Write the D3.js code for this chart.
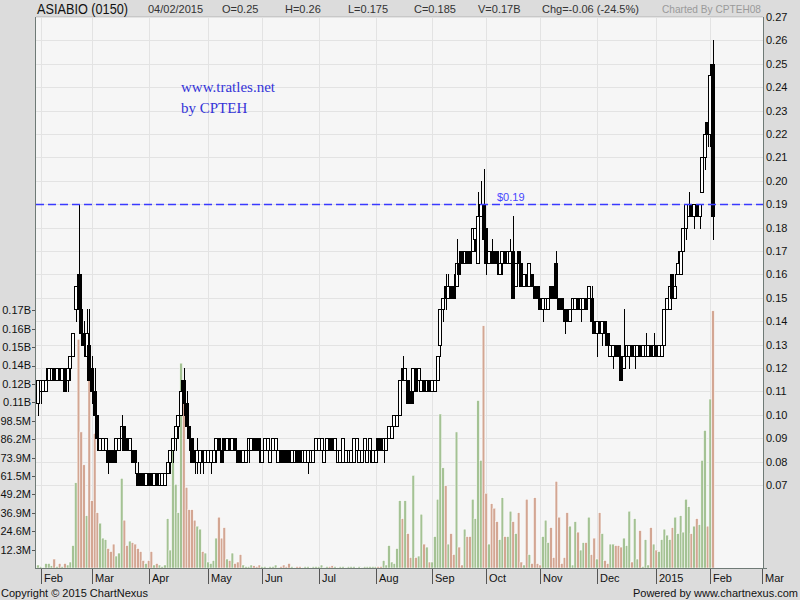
<!DOCTYPE html>
<html>
<head>
<meta charset="utf-8">
<script src="https://cdnjs.cloudflare.com/ajax/libs/d3/7.8.5/d3.min.js"></script>
<style>
  body { margin: 0; background: #dcdcdc; }
  svg { display: block; font-family: "Liberation Sans", Arial, sans-serif; }
</style>
</head>
<body>
<div id="chart"></div>
<script>
var fullwidth = 800, fullheight = 600;
var plot = {left: 36, right: 763, top: 17, bottom: 568};

// one row per trading day: [open, high, low, close, volume (millions)]
var jan14 = [[.105,.115,.10,.115,2]];
var feb14 = [
  [.11,.115,.105,.115,1],[.11,.115,.11,.115,0.5],[.11,.12,.11,.115,3],[.115,.12,.115,.12,3],
  [.115,.12,.115,.12,1.5],[.12,.12,.115,.115,6],[.115,.12,.115,.12,1],[.12,.12,.115,.115,3],
  [.115,.12,.115,.12,1],[.12,.12,.11,.11,3],[.115,.12,.11,.12,2],[.12,.125,.115,.125,4],
  [.125,.135,.125,.135,15],[.145,.155,.14,.155,57],[.16,.19,.14,.145,153],[.145,.16,.13,.135,91],
  [.135,.14,.125,.13,69],[.125,.145,.125,.135,35],[.13,.145,.115,.115,126]];
var mar14 = [
  [.12,.125,.105,.11,45],[.11,.12,.095,.10,90],[.10,.10,.085,.09,37],[.085,.09,.085,.09,30],
  [.085,.09,.085,.09,20],[.085,.09,.085,.09,19],[.085,.085,.075,.08,13],[.085,.085,.08,.08,11],
  [.085,.085,.08,.08,16],[.085,.09,.08,.09,8],[.085,.09,.085,.09,10],[.09,.10,.09,.095,60],
  [.095,.095,.085,.085,32],[.09,.09,.085,.085,15],[.085,.09,.085,.09,18],[.085,.085,.08,.08,17],
  [.085,.085,.075,.08,16],[.075,.08,.07,.07,13],[.075,.075,.07,.07,11],[.075,.075,.07,.07,5],
  [.07,.075,.07,.075,3]];
var apr14 = [
  [.075,.075,.07,.07,5],[.075,.075,.07,.07,11],[.07,.075,.07,.075,2],[.075,.075,.07,.07,3],
  [.07,.075,.07,.075,2],[.07,.075,.07,.075,1],[.07,.075,.07,.075,2],[.075,.08,.075,.08,33],
  [.08,.085,.075,.085,12],[.085,.09,.08,.09,84],[.09,.095,.085,.095,56],[.095,.10,.09,.10,37],
  [.10,.115,.10,.11,137],[.115,.12,.10,.105,124],[.105,.11,.095,.095,54],[.095,.095,.085,.09,39],
  [.09,.09,.08,.08,39],[.085,.085,.075,.08,32],[.08,.09,.075,.085,28],[.08,.085,.075,.085,26],
  [.085,.085,.075,.08,11],[.08,.085,.08,.085,10]];
var may14 = [
  [.08,.085,.08,.085,4],[.08,.085,.075,.085,3],[.08,.085,.08,.085,5],[.085,.09,.08,.09,20],
  [.09,.09,.085,.085,34],[.085,.085,.08,.08,20],[.09,.09,.085,.085,27],[.085,.09,.085,.09,6],
  [.09,.09,.085,.085,5],[.085,.09,.085,.09,10],[.09,.09,.085,.085,3],[.085,.085,.08,.08,4],
  [.085,.085,.08,.08,9],[.08,.085,.08,.085,2],[.08,.085,.08,.085,1],[.085,.09,.08,.09,1],
  [.085,.09,.085,.09,2],[.09,.09,.085,.085,1.5],[.09,.09,.085,.085,1],[.09,.09,.08,.085,2]];
var jun14 = [
  [.08,.085,.08,.085,1],[.085,.09,.085,.09,1],[.085,.09,.08,.09,0.5],[.08,.085,.08,.085,1],
  [.085,.09,.085,.09,1],[.085,.09,.08,.09,2],[.08,.085,.08,.085,0.5],[.085,.085,.08,.08,1],
  [.085,.085,.08,.08,2],[.085,.085,.08,.08,1],[.085,.085,.08,.08,3],[.08,.085,.08,.085,1],
  [.08,.085,.08,.085,0.5],[.085,.085,.08,.08,1],[.085,.085,.08,.08,1],[.08,.085,.08,.085,0.5],
  [.08,.085,.08,.085,1],[.08,.085,.075,.085,1],[.08,.085,.08,.085,0.5],[.08,.085,.08,.085,1],
  [.085,.09,.085,.09,1]];
var jul14 = [
  [.085,.09,.085,.09,1],[.085,.09,.08,.09,2],[.08,.085,.08,.085,0.5],[.085,.09,.085,.09,1],
  [.09,.09,.085,.085,1],[.09,.09,.085,.085,1.5],[.085,.09,.085,.09,1],[.08,.085,.08,.085,0.5],
  [.08,.085,.08,.085,1],[.08,.09,.08,.09,1],[.08,.085,.08,.085,0.5],[.08,.085,.08,.085,1],
  [.08,.085,.08,.085,1],[.08,.09,.08,.09,1],[.085,.09,.085,.09,0.5],[.08,.085,.08,.085,1],
  [.08,.085,.08,.085,0.5],[.085,.09,.08,.09,1],[.08,.085,.08,.085,1],[.085,.09,.08,.09,1],
  [.08,.085,.08,.085,1]];
var aug14 = [
  [.08,.085,.08,.085,1],[.09,.09,.085,.085,1],[.09,.09,.085,.085,1],[.085,.09,.08,.09,5],
  [.085,.09,.085,.09,2],[.09,.095,.09,.095,15],[.09,.095,.09,.095,4],[.095,.10,.095,.10,3],
  [.095,.10,.095,.10,13],[.10,.115,.10,.115,45],[.12,.125,.115,.115,33],[.115,.12,.115,.12,45],
  [.115,.115,.105,.105,23],[.11,.11,.105,.105,7],[.11,.12,.105,.12,62],[.12,.12,.11,.11,7],
  [.115,.12,.11,.12,8],[.11,.115,.11,.115,36],[.115,.115,.11,.11,16],[.11,.115,.11,.115,14],
  [.115,.115,.11,.11,4]];
var sep14 = [
  [.11,.115,.11,.115,4],[.11,.115,.11,.115,21],[.115,.125,.115,.125,46],[.13,.145,.125,.145,103],
  [.145,.15,.14,.15,67],[.155,.16,.145,.15,55],[.15,.16,.15,.155,16],[.155,.155,.15,.15,23],
  [.155,.16,.15,.15,9],[.155,.175,.155,.165,91],[.165,.17,.16,.16,14],[.17,.17,.165,.165,2],
  [.165,.17,.165,.17,26],[.17,.17,.165,.165,21],[.17,.17,.165,.165,21],[.17,.18,.17,.18,46],
  [.175,.18,.17,.18,33],[.165,.195,.165,.185,112],[.185,.20,.185,.19,72],[.19,.205,.175,.175,162]];
var oct14 = [
  [.18,.18,.16,.165,50],[.165,.17,.165,.17,16],[.17,.175,.165,.165,43],[.17,.17,.165,.165,40],
  [.17,.17,.16,.165,31],[.16,.165,.16,.165,19],[.165,.17,.16,.17,47],[.17,.17,.165,.165,21],
  [.165,.17,.165,.17,21],[.165,.175,.165,.17,38],[.17,.185,.15,.15,31],[.155,.165,.155,.165,23],
  [.17,.17,.165,.165,37],[.165,.165,.155,.155,4],[.155,.16,.155,.16,2],[.16,.16,.155,.155,46],
  [.155,.165,.155,.165,9],[.16,.16,.155,.155,3],[.155,.155,.15,.15,47],[.155,.155,.145,.15,3]];
var nov14 = [
  [.15,.15,.145,.145,2],[.145,.15,.14,.15,21],[.145,.15,.145,.15,32],[.145,.15,.145,.15,17],
  [.155,.155,.15,.15,27],[.155,.155,.15,.15,7],[.165,.17,.15,.15,58],[.15,.15,.145,.145,34],
  [.15,.15,.145,.145,3],[.145,.145,.135,.14,7],[.145,.145,.14,.14,37],[.14,.145,.14,.145,28],
  [.145,.15,.145,.15,2],[.145,.15,.145,.15,31],[.15,.15,.145,.145,24],[.145,.15,.14,.15,12],
  [.145,.15,.145,.15,17],[.15,.15,.145,.145,17],[.15,.155,.15,.155,34],[.15,.155,.135,.14,9],
  [.14,.14,.135,.135,20]];
var dec14 = [
  [.135,.14,.125,.14,6],[.14,.14,.135,.135,37],[.135,.14,.13,.14,23],[.14,.14,.13,.135,5],
  [.135,.135,.125,.13,3],[.125,.13,.125,.13,16],[.125,.13,.12,.13,16],[.13,.13,.125,.125,15],
  [.13,.13,.12,.125,15],[.125,.125,.115,.115,14],[.12,.145,.12,.125,20],[.125,.13,.125,.13,15],
  [.125,.13,.12,.13,38],[.13,.13,.125,.125,4],[.125,.13,.12,.13,33],[.125,.13,.125,.13,6],
  [.13,.13,.125,.125,25],[.125,.13,.125,.13,1],[.125,.135,.125,.13,19],[.125,.13,.125,.13,2],
  [.13,.13,.125,.125,27],[.125,.135,.125,.13,16]];
var jan15 = [
  [.13,.13,.125,.125,12],[.125,.13,.125,.13,11],[.125,.135,.125,.13,19],[.13,.145,.13,.145,26],
  [.145,.15,.145,.15,22],[.145,.155,.145,.155,19],[.16,.16,.15,.15,27],[.15,.16,.15,.155,34],
  [.16,.17,.16,.165,23],[.16,.17,.16,.17,35],[.17,.18,.17,.18,24],[.18,.19,.175,.19,46],
  [.185,.195,.185,.19,41],[.19,.19,.185,.185,23],[.185,.19,.18,.19,28],[.19,.19,.185,.185,33],
  [.185,.19,.18,.19,29],[.195,.21,.195,.21,72],[.21,.225,.205,.22,92],[.225,.245,.215,.22,28]];
var feb15 = [[.22,.25,.215,.245,113],[.25,.26,.175,.185,172]];

var monthLabels = ["Feb","Mar","Apr","May","Jun","Jul","Aug","Sep","Oct","Nov","Dec","2015","Feb","Mar"];
var monthIdx = [1,20,41,63,83,104,125,146,166,186,207,229,249,268];
var priceTicks = [0.07,0.08,0.09,0.10,0.11,0.12,0.13,0.14,0.15,0.16,0.17,0.18,0.19,0.20,0.21,0.22,0.23,0.24,0.25,0.26,0.27];
var volTicks = [12.31,24.62,36.93,49.24,61.55,73.86,86.17,98.48,110.79,123.1,135.41,147.72,160.03,172.34];
var volLabels = ["12.3M","24.6M","36.9M","49.2M","61.5M","73.9M","86.2M","98.5M","0.11B","0.12B","0.14B","0.15B","0.16B","0.17B"];
var resistance = 0.19;

var days = [].concat(jan14, feb14, mar14, apr14, may14, jun14, jul14, aug14, sep14, oct14, nov14, dec14, jan15, feb15);

var svg = d3.select("#chart").append("svg")
    .attr("width", fullwidth)
    .attr("height", fullheight);

svg.append("rect").attr("width", fullwidth).attr("height", fullheight).attr("fill", "#dcdcdc");
svg.append("rect")
    .attr("x", plot.left).attr("y", plot.top)
    .attr("width", plot.right - plot.left).attr("height", plot.bottom - plot.top)
    .attr("fill", "#f6f6f6");

var xScale = d3.scaleLinear().domain([0, days.length - 1]).range([38, 713]);
var yScale = d3.scaleLinear().domain([0.0345, 0.27]).range([plot.bottom, plot.top]);
var vScale = d3.scaleLinear().domain([0, 172.34]).range([plot.bottom, 310.3]);

function px(i) { return Math.round(xScale(i)); }
function py(v) { return Math.round(yScale(v)) + 0.5; }

function isUp(d, i) {
    if (d[3] != d[0]) return d[3] > d[0];
    return i == 0 || d[3] >= days[i - 1][3];
}

// grid
svg.append("g").selectAll("line.hgrid")
    .data(priceTicks)
    .enter().append("line")
    .attr("class", "hgrid")
    .attr("x1", plot.left).attr("x2", plot.right)
    .attr("y1", function(d) { return py(d); })
    .attr("y2", function(d) { return py(d); })
    .attr("stroke", "#e3e3e3");

svg.append("g").selectAll("line.vgrid")
    .data(monthIdx.filter(function(d) { return xScale(d) < plot.right - 2; }))
    .enter().append("line")
    .attr("class", "vgrid")
    .attr("x1", function(d) { return px(d) + 0.5; })
    .attr("x2", function(d) { return px(d) + 0.5; })
    .attr("y1", plot.top).attr("y2", plot.bottom)
    .attr("stroke", "#e3e3e3");

// volume bars
svg.append("g").selectAll("rect.vol")
    .data(days)
    .enter().append("rect")
    .attr("class", "vol")
    .attr("x", function(d, i) { return xScale(i) - 1.35; })
    .attr("width", 2.7)
    .attr("y", function(d) { return vScale(d[4]); })
    .attr("height", function(d) { return plot.bottom - vScale(d[4]); })
    .attr("fill", function(d, i) { return isUp(d, i) ? "#a4c294" : "#d3a693"; })
    .attr("stroke", "#ffffff")
    .attr("stroke-width", 0.5);

// candles: wick first, then a 4px body that covers the neighbour on its left
var candle = svg.append("g").selectAll("g.candle")
    .data(days)
    .enter().append("g")
    .attr("class", "candle");

candle.append("line")
    .attr("x1", function(d, i) { return px(i) + 0.5; })
    .attr("x2", function(d, i) { return px(i) + 0.5; })
    .attr("y1", function(d) { return py(d[1]) - 0.5; })
    .attr("y2", function(d) { return py(d[2]) + 0.5; })
    .attr("stroke", "#000")
    .attr("stroke-width", 1);

candle.append("rect")
    .attr("x", function(d, i) { return px(i) - 1.5; })
    .attr("width", 3)
    .attr("y", function(d) { return py(Math.max(d[0], d[3])); })
    .attr("height", function(d) { return Math.max(0.01, py(Math.min(d[0], d[3])) - py(Math.max(d[0], d[3]))); })
    .attr("fill", function(d, i) { return d[3] > d[0] ? "#ffffff" : "#000000"; })
    .attr("stroke", "#000")
    .attr("stroke-width", 1);

// resistance line
svg.append("line")
    .attr("x1", plot.left).attr("x2", plot.right)
    .attr("y1", py(resistance)).attr("y2", py(resistance))
    .attr("stroke", "#3a3aff")
    .attr("stroke-width", 1.6)
    .attr("stroke-dasharray", "8,4");

svg.append("text")
    .attr("x", 497).attr("y", py(resistance) - 4)
    .attr("font-size", "11px")
    .attr("fill", "#4545ff")
    .text("$" + resistance.toFixed(2));

// axes frame
svg.append("line").attr("x1", plot.left - 0.5).attr("x2", plot.left - 0.5)
    .attr("y1", plot.top).attr("y2", plot.bottom + 1).attr("stroke", "#6f7a76");
svg.append("line").attr("x1", plot.right + 0.5).attr("x2", plot.right + 0.5)
    .attr("y1", plot.top).attr("y2", plot.bottom + 1).attr("stroke", "#6f7a76");
svg.append("line").attr("x1", plot.left).attr("x2", plot.right + 4)
    .attr("y1", plot.bottom + 0.5).attr("y2", plot.bottom + 0.5).attr("stroke", "#6f7a76");
svg.append("line").attr("x1", plot.left).attr("x2", plot.right)
    .attr("y1", plot.top - 0.5).attr("y2", plot.top - 0.5).attr("stroke", "#c8c8c8");

// price axis (right)
svg.append("g").selectAll("text.price")
    .data(priceTicks)
    .enter().append("text")
    .attr("class", "price")
    .attr("x", plot.right + 3)
    .attr("y", function(d) { return py(d); })
    .attr("dy", "0.36em")
    .attr("font-size", "11px")
    .attr("fill", "#111")
    .text(function(d) { return d.toFixed(2); });

// volume axis (left)
var vAxis = svg.append("g").selectAll("g.vtick")
    .data(volTicks)
    .enter().append("g")
    .attr("class", "vtick");
vAxis.append("line")
    .attr("x1", plot.left - 4).attr("x2", plot.left - 1)
    .attr("y1", function(d) { return Math.round(vScale(d)) + 0.5; })
    .attr("y2", function(d) { return Math.round(vScale(d)) + 0.5; })
    .attr("stroke", "#555");
vAxis.append("text")
    .attr("x", plot.left - 5)
    .attr("y", function(d) { return vScale(d); })
    .attr("dy", "0.36em")
    .attr("text-anchor", "end")
    .attr("font-size", "11px")
    .attr("fill", "#111")
    .text(function(d, i) { return volLabels[i]; });

// month axis
var mAxis = svg.append("g").selectAll("g.month")
    .data(monthIdx)
    .enter().append("g")
    .attr("class", "month");
mAxis.append("line")
    .attr("x1", function(d) { return px(d) + 0.5; })
    .attr("x2", function(d) { return px(d) + 0.5; })
    .attr("y1", plot.bottom + 1).attr("y2", plot.bottom + 16)
    .attr("stroke", "#555");
mAxis.append("text")
    .attr("x", function(d) { return px(d) + 3; })
    .attr("y", plot.bottom + 14)
    .attr("font-size", "11px")
    .attr("fill", "#111")
    .text(function(d, i) { return monthLabels[i]; });

// header
var last = days[days.length - 1], prev = days[days.length - 2];
var chg = last[3] - prev[3];
svg.append("text").attr("x", 37).attr("y", 13.5).attr("font-size", "14px").attr("fill", "#111")
    .attr("textLength", 91).attr("lengthAdjust", "spacingAndGlyphs")
    .text("ASIABIO (0150)");
var hdr = svg.append("g").attr("font-size", "11px").attr("fill", "#333");
hdr.append("text").attr("x", 148).attr("y", 13).text("04/02/2015");
hdr.append("text").attr("x", 222).attr("y", 13).text("O=" + last[0]);
hdr.append("text").attr("x", 285).attr("y", 13).text("H=" + last[1]);
hdr.append("text").attr("x", 348).attr("y", 13).text("L=" + last[2]);
hdr.append("text").attr("x", 414).attr("y", 13).text("C=" + last[3]);
hdr.append("text").attr("x", 478).attr("y", 13).text("V=" + (last[4] / 1000).toFixed(2).replace(/0$/, "") + "B");
hdr.append("text").attr("x", 542).attr("y", 13)
    .text("Chg=" + chg.toFixed(2) + " (" + (chg / prev[3] * 100).toFixed(1) + "%)");
hdr.append("text").attr("x", 662).attr("y", 13).attr("fill", "#9a9a9a")
    .attr("textLength", 99).attr("lengthAdjust", "spacingAndGlyphs")
    .text("Charted By CPTEH08");

// watermark
var wm = svg.append("g").attr("font-family", "'Liberation Serif', 'Times New Roman', serif")
    .attr("font-size", "15px").attr("fill", "#3434d8");
wm.append("text").attr("x", 181).attr("y", 92).text("www.tratles.net");
wm.append("text").attr("x", 181).attr("y", 113).text("by CPTEH");

// footer
svg.append("text").attr("x", 1).attr("y", 597).attr("font-size", "11px").attr("fill", "#111")
    .text("Copyright \u00a9 2015 ChartNexus");
svg.append("text").attr("x", 798).attr("y", 597).attr("text-anchor", "end").attr("font-size", "11px").attr("fill", "#111")
    .text("Powered by www.chartnexus.com");
</script>
</body>
</html>
